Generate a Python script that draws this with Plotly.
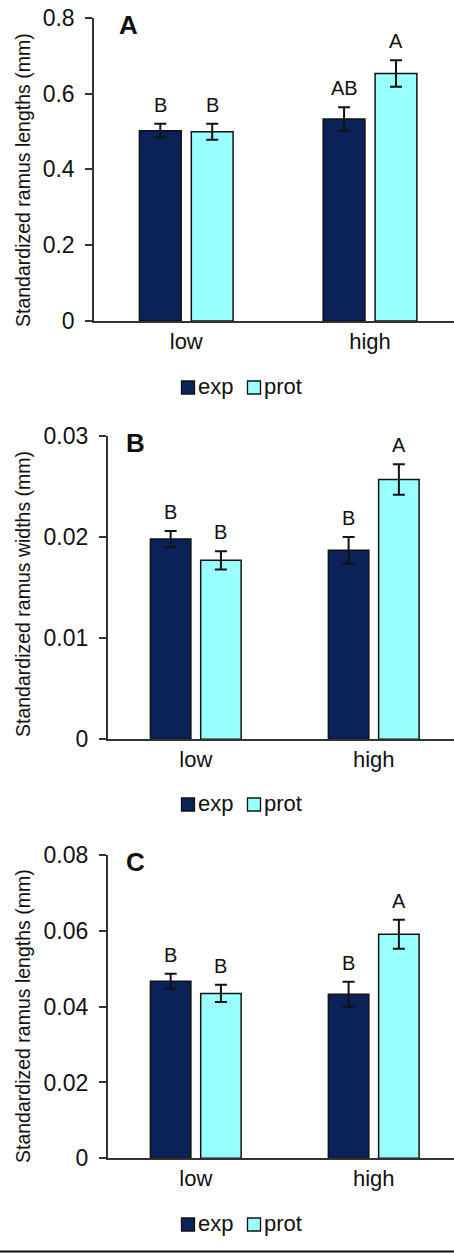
import plotly.graph_objects as go

# ---- data -------------------------------------------------------------
groups = ["low", "high"]
series_names = ["exp", "prot"]

len_exp = [0.502, 0.533]
len_exp_se = [0.018, 0.031]
len_prot = [0.499, 0.653]
len_prot_se = [0.021, 0.035]
len_exp_letters = ["B", "AB"]
len_prot_letters = ["B", "A"]

wid_exp = [0.0198, 0.0187]
wid_exp_se = [0.0008, 0.0013]
wid_prot = [0.0177, 0.0257]
wid_prot_se = [0.0009, 0.0015]
wid_exp_letters = ["B", "B"]
wid_prot_letters = ["B", "A"]

len2_exp = [0.0467, 0.0433]
len2_exp_se = [0.0020, 0.0033]
len2_prot = [0.0435, 0.0591]
len2_prot_se = [0.0023, 0.0038]
len2_exp_letters = ["B", "B"]
len2_prot_letters = ["B", "A"]

# ---- styling ----------------------------------------------------------
W, H = 454, 1253
FONT = "Liberation Sans, Arial, sans-serif"
INK = "#111111"
NAVY = "#0b2259"
CYAN = "#99ffff"
COLORS = [NAVY, CYAN]
BARGAP = 0.435
GROUPGAP = 0.195

# legend key layout (pixels): swatch left edges and label left edges
KEY_SWATCH_X = [181.5, 247.5]
KEY_LABEL_X = [196, 262]
KEY_SIZE = 13

panels = [
    dict(tag="A", exp=len_exp, exp_se=len_exp_se, prot=len_prot, prot_se=len_prot_se,
         exp_l=len_exp_letters, prot_l=len_prot_letters,
         ytitle="Standardized ramus lengths (mm)", yrange=[0, 0.8], dtick=0.2,
         top=17.7, bottom=321, left=94, xrange=[-0.502, 1.457],
         title_y=180, legend_y=386),
    dict(tag="B", exp=wid_exp, exp_se=wid_exp_se, prot=wid_prot, prot_se=wid_prot_se,
         exp_l=wid_exp_letters, prot_l=wid_prot_letters,
         ytitle="Standardized ramus widths (mm)", yrange=[0, 0.03], dtick=0.01,
         top=436, bottom=739.3, left=107.7, xrange=[-0.495, 1.451],
         title_y=594, legend_y=803),
    dict(tag="C", exp=len2_exp, exp_se=len2_exp_se, prot=len2_prot, prot_se=len2_prot_se,
         exp_l=len2_exp_letters, prot_l=len2_prot_letters,
         ytitle="Standardized ramus lengths (mm)", yrange=[0, 0.08], dtick=0.02,
         top=855, bottom=1158.3, left=107.7, xrange=[-0.495, 1.451],
         title_y=1016, legend_y=1223),
]

fig = go.Figure()
annotations = []
shapes = []
layout_axes = {}
bar_shift = (1 - BARGAP) / 4  # centre of each bar relative to its category

for i, p in enumerate(panels, start=1):
    sfx = "" if i == 1 else str(i)
    xa, ya = "x" + sfx, "y" + sfx

    series = [(series_names[0], p["exp"], p["exp_se"], p["exp_l"], -1),
              (series_names[1], p["prot"], p["prot_se"], p["prot_l"], 1)]

    for (name, vals, se, _, _), color in zip(series, COLORS):
        fig.add_trace(go.Bar(
            x=groups, y=vals, name=name, xaxis=xa, yaxis=ya, showlegend=False,
            marker=dict(color=color, line=dict(color=INK, width=1.5)),
            error_y=dict(type="data", array=se, visible=True,
                         color=INK, thickness=2, width=6),
        ))

    # significance letters above the error bars
    for name, vals, se, letters, sign in series:
        for k in range(len(groups)):
            annotations.append(dict(
                x=k + sign * bar_shift, y=vals[k] + se[k], xref=xa, yref=ya,
                text=letters[k], showarrow=False, yanchor="bottom", yshift=6,
                font=dict(family=FONT, size=20, color=INK),
            ))

    # legend keys under each panel
    ly = p["legend_y"]
    for (name, *_), color, sx, tx in zip(series, COLORS, KEY_SWATCH_X, KEY_LABEL_X):
        y0 = ly + 1.5 - KEY_SIZE / 2
        shapes.append(dict(
            type="rect", xref="paper", yref="paper",
            x0=sx / W, x1=(sx + KEY_SIZE) / W,
            y0=1 - (y0 + KEY_SIZE) / H, y1=1 - y0 / H,
            fillcolor=color, line=dict(color=INK, width=1.3),
        ))
        annotations.append(dict(
            x=tx / W, y=1 - ly / H, xref="paper", yref="paper", text=name,
            showarrow=False, xanchor="left", yanchor="middle",
            font=dict(family=FONT, size=22, color=INK),
        ))

    # panel tag
    tag_x = p["left"] + (34 if i == 1 else 28)
    annotations.append(dict(
        x=tag_x / W, y=1 - (p["top"] + 7) / H,
        xref="paper", yref="paper", text="<b>%s</b>" % p["tag"], showarrow=False,
        font=dict(family=FONT, size=26, color=INK),
        xanchor="center", yanchor="middle",
    ))

    # y-axis title
    annotations.append(dict(
        x=23 / W, y=1 - p["title_y"] / H, xref="paper", yref="paper",
        text=p["ytitle"], textangle=-90, showarrow=False,
        font=dict(family=FONT, size=19.5, color=INK),
        xanchor="center", yanchor="middle",
    ))

    layout_axes["xaxis" + sfx] = dict(
        domain=[p["left"] / W, 1], range=p["xrange"], anchor=ya, automargin=False,
        type="category", showline=True, linecolor="#333333", linewidth=1.5,
        ticks="", showgrid=False, zeroline=False,
        tickfont=dict(family=FONT, size=22, color=INK),
    )
    layout_axes["yaxis" + sfx] = dict(
        domain=[1 - p["bottom"] / H, 1 - p["top"] / H], range=p["yrange"],
        automargin=False,
        dtick=p["dtick"], tick0=0, anchor=xa, showline=True, linecolor="#333333",
        linewidth=1.5, ticks="outside", ticklen=7, tickwidth=1.5, tickcolor="#333333",
        showgrid=False, zeroline=False, ticklabelstandoff=6,
        tickfont=dict(family=FONT, size=23, color=INK),
    )

# rule along the bottom edge of the figure
shapes.append(dict(type="line", xref="paper", yref="paper", x0=0, x1=1,
                   y0=1.5 / H, y1=1.5 / H, line=dict(color=INK, width=2)))

fig.update_layout(
    width=W, height=H, margin=dict(l=0, r=0, t=0, b=0, autoexpand=False),
    paper_bgcolor="white", plot_bgcolor="white", showlegend=False,
    barmode="group", bargap=BARGAP, bargroupgap=GROUPGAP,
    annotations=annotations, shapes=shapes,
    **layout_axes,
)

fig.write_html("out.html",
               post_script="document.body.style.margin='0';"
                           "document.body.style.overflow='hidden';")
